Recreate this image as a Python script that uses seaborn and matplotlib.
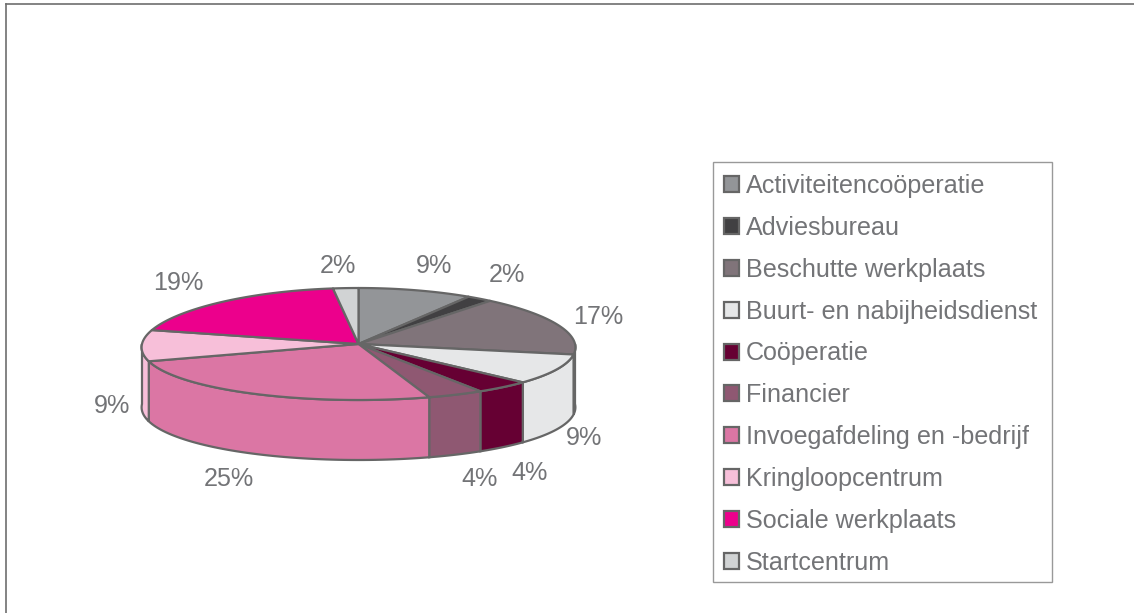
import numpy as np
import matplotlib
matplotlib.use("Agg")
import matplotlib.pyplot as plt
from matplotlib.patches import Patch, Rectangle
import seaborn as sns

categories = ['Activiteitencoöperatie', 'Adviesbureau', 'Beschutte werkplaats',
              'Buurt- en nabijheidsdienst', 'Coöperatie', 'Financier',
              'Invoegafdeling en -bedrijf', 'Kringloopcentrum', 'Sociale werkplaats',
              'Startcentrum']
shares = [9, 2, 17, 9, 4, 4, 25, 9, 19, 2]
slice_colors = ['#939598', '#414042', '#80747a', '#e6e7e8', '#660033',
                '#8f5872', '#db76a4', '#f7bfd9', '#ec008c', '#d1d3d4']

# where the percent labels sit, in pixels from the top left
label_x = [434, 507, 598, 584, 530, 480, 229, 112, 178, 338]
label_y = [266, 275, 317, 438, 473, 479, 479, 406, 283, 266]

W, H = 1134, 613
CX, CY = 358.5, 344      # pie centre
RX, RY = 216.5, 56       # ellipse radii
DEPTH = 60 / RY          # wall height in data units
PERSP = 0.06             # front of the pie is a bit wider than the back
EDGE = '#666666'
TEXT = '#737477'
FS = 18.1

sns.set_theme(style='white')
plt.rcParams['font.family'] = ['Liberation Sans', 'DejaVu Sans']

fig = plt.figure(figsize=(W / 100, H / 100), dpi=100)
ax = fig.add_axes([6 / W, 0, 1 - 6 / W, 1 - 4 / H])
ax.set_xlim((6 - CX) / RX, (W - CX) / RX)
ax.set_ylim((CY - H) / RY, (CY - 4) / RY)
ax.set_xticks([])
ax.set_yticks([])


def rim(deg):
    # point on the rim, angle clockwise from the top
    t = np.radians(deg)
    y = np.cos(t)
    return np.sin(t) * (1 - PERSP * y), y


ends = np.cumsum(shares) / np.sum(shares) * 360
starts = np.r_[0, ends[:-1]]

# side wall first, only the front half shows
for a, b, col in zip(starts, ends, slice_colors):
    lo, hi = max(a, 90), min(b, 270)
    if hi <= lo:
        continue
    x, y = rim(np.linspace(lo, hi, 60))
    ax.fill(np.r_[x, x[::-1]], np.r_[y, y[::-1] - DEPTH], facecolor=col,
            edgecolor=EDGE, linewidth=1.6, zorder=2)

# top faces
for a, b, col in zip(starts, ends, slice_colors):
    x, y = rim(np.linspace(a, b, 80))
    ax.fill(np.r_[0, x], np.r_[0, y], facecolor=col, edgecolor=EDGE,
            linewidth=1.6, joinstyle='round', zorder=3)

sns.despine(ax=ax, top=False, left=False, right=True, bottom=True)
for side in ['top', 'left']:
    ax.spines[side].set_color('#6e6e6e')
    ax.spines[side].set_linewidth(1.2)

for x, y, s in zip(label_x, label_y, shares):
    fig.text(x / W, 1 - y / H, f'{s}%', ha='center', va='center', fontsize=FS, color=TEXT)

# legend box drawn apart so its size is exact
fig.add_artist(Rectangle((713 / W, 1 - 582 / H), 339 / W, 420 / H, transform=fig.transFigure,
                         facecolor='white', edgecolor='#999999', linewidth=1.0))
handles = [Patch(facecolor=c, edgecolor=EDGE, linewidth=1.6) for c in slice_colors]
leg = fig.legend(handles, categories, loc='upper left', bbox_to_anchor=(724 / W, 1 - 174 / H),
                 bbox_transform=fig.transFigure, borderaxespad=0, fontsize=FS,
                 handlelength=0.6, handleheight=0.6, handletextpad=0.28,
                 labelspacing=0.71, borderpad=0, frameon=False, labelcolor=TEXT)

fig.savefig('out.png', dpi=100, facecolor='white')
